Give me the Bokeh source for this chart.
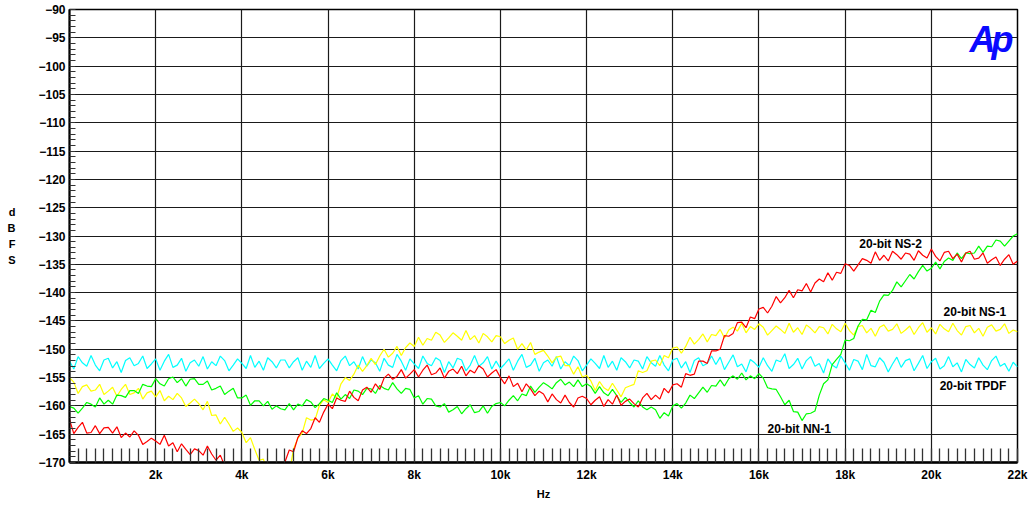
from bokeh.plotting import figure
from bokeh.models import FixedTicker, Range1d, Label
from bokeh.embed import file_html
from bokeh.resources import INLINE

# frequency axis of the sweep (Hz), one reading every 100 Hz
freq_hz = list(range(0, 22001, 100))

tpdf = [
    -152.1, -153.5, -151.3, -152.4, -153.0, -151.1, -152.8, -153.8, -151.9, -151.6,
    -153.3, -152.2, -154.1, -152.0, -151.5, -152.9, -152.5, -151.2, -153.4, -152.6,
    -151.7, -153.7, -152.1, -150.9, -153.2, -152.8, -151.6, -153.9, -152.4, -151.9,
    -153.0, -151.3, -153.5, -152.2, -152.9, -151.2, -152.0, -153.8, -152.8, -151.7,
    -152.5, -153.4, -151.1, -153.2, -152.1, -153.7, -151.5, -152.2, -153.3, -151.9,
    -151.9, -153.3, -152.2, -151.5, -153.7, -152.1, -153.2, -151.1, -153.4, -152.5,
    -151.7, -152.8, -153.8, -152.0, -151.2, -152.9, -152.2, -153.5, -151.3, -153.0,
    -151.9, -152.4, -153.9, -151.6, -152.8, -153.2, -150.9, -152.1, -153.7, -151.7,
    -152.6, -153.4, -151.2, -152.5, -152.9, -151.5, -152.0, -154.1, -152.2, -153.3,
    -151.6, -151.9, -153.8, -152.8, -151.1, -153.0, -152.4, -151.3, -153.5, -152.1,
    -153.4, -152.6, -151.7, -153.7, -152.1, -150.9, -153.2, -152.8, -151.6, -153.9,
    -152.4, -151.9, -153.0, -151.3, -153.5, -152.2, -152.9, -151.2, -152.0, -153.8,
    -152.8, -151.7, -152.5, -153.4, -151.1, -153.2, -152.1, -153.7, -151.5, -152.2,
    -153.3, -151.9, -152.1, -153.5, -151.3, -152.4, -153.0, -151.1, -152.8, -153.8,
    -151.9, -151.6, -153.3, -152.2, -154.1, -152.0, -151.5, -152.9, -152.5, -151.2,
    -152.7, -151.4, -153.6, -152.3, -151.0, -153.1, -152.6, -154.0, -151.8, -152.4,
    -153.2, -151.5, -152.9, -153.9, -151.9, -152.2, -150.8, -153.4, -152.7, -151.6,
    -153.5, -152.0, -151.3, -153.0, -152.5, -154.2, -151.7, -152.8, -153.3, -151.2,
    -152.4, -153.7, -151.8, -152.1, -153.6, -150.9, -152.9, -153.1, -151.5, -152.3,
    -154.0, -152.6, -151.4, -153.2, -152.0, -151.7, -153.8, -152.5, -151.1, -153.4,
    -152.2, -151.6, -153.5, -152.9, -151.3, -153.1, -152.4, -154.0, -151.8, -152.7,
    -153.3, -151.5, -152.8, -153.6, -152.0, -151.2, -153.0, -152.5, -153.9, -152.3,
    -153.1,
]

ns1 = [
    -155.0, -155.8, -157.8, -156.6, -156.3, -157.4, -157.2, -156.2, -158.0, -157.4,
    -156.7, -158.3, -157.1, -156.2, -158.0, -157.7, -156.9, -158.8, -157.7, -157.4,
    -158.4, -157.3, -159.1, -158.3, -158.9, -157.8, -158.6, -160.1, -159.5, -158.8,
    -159.6, -160.7, -159.2, -161.7, -161.6, -163.2, -162.0, -163.2, -164.5, -163.9,
    -164.7, -166.5, -165.6, -167.7, -169.6, -169.4, -171.7, -173.3, -172.3, -172.1,
    -172.0, -171.8, -167.6, -165.7, -164.8, -162.1, -162.5, -162.4, -159.9, -158.9,
    -159.4, -157.9, -158.6, -156.1, -155.0, -155.5, -154.4, -152.8, -153.9, -152.9,
    -151.6, -152.7, -151.2, -150.0, -151.4, -150.7, -149.5, -151.1, -149.7, -148.9,
    -149.5, -147.9, -149.3, -148.1, -148.4, -147.0, -147.5, -148.8, -148.0, -147.1,
    -147.7, -148.4, -146.7, -148.3, -147.6, -148.9, -147.2, -147.8, -148.7, -147.6,
    -147.8, -149.0, -148.4, -148.0, -150.0, -149.0, -150.1, -148.8, -150.9, -150.5,
    -150.2, -151.2, -152.4, -151.4, -151.2, -152.9, -152.9, -154.4, -153.1, -154.9,
    -154.6, -155.6, -157.3, -155.7, -156.8, -157.3, -156.0, -157.2, -158.4, -156.8,
    -156.5, -156.2, -153.8, -154.1, -153.8, -152.1, -151.9, -152.9, -151.1, -151.5,
    -149.8, -149.6, -150.7, -149.5, -147.9, -149.1, -148.3, -147.3, -148.7, -147.4,
    -147.6, -146.5, -148.0, -146.6, -146.1, -146.8, -145.4, -147.1, -146.0, -146.5,
    -145.5, -146.1, -147.5, -146.7, -145.9, -146.5, -147.2, -145.4, -147.0, -146.2,
    -147.4, -145.7, -146.3, -147.1, -146.0, -146.2, -147.3, -145.6, -146.4, -146.9,
    -145.4, -146.7, -147.5, -146.0, -145.8, -147.1, -146.3, -147.7, -146.1, -145.7,
    -146.8, -146.5, -145.5, -147.2, -146.6, -145.9, -147.4, -146.2, -145.3, -147.0,
    -146.2, -147.3, -145.6, -146.4, -146.9, -145.4, -146.7, -147.5, -146.0, -145.8,
    -147.1, -146.3, -147.7, -146.1, -145.7, -146.8, -146.5, -145.5, -147.2, -146.6,
    -146.9,
]

ns2 = [
    -162.4, -164.9, -163.8, -162.9, -164.8, -164.7, -163.5, -164.9, -163.9, -163.8,
    -164.8, -163.7, -165.6, -164.8, -165.5, -164.4, -165.2, -166.8, -166.3, -165.7,
    -166.2, -166.8, -165.2, -167.1, -166.5, -168.1, -166.7, -167.7, -168.6, -167.6,
    -167.9, -168.7, -167.1, -168.5, -169.6, -168.7, -170.6, -172.0, -171.1, -171.3,
    -172.5, -172.9, -173.1, -173.3, -173.2, -172.9, -172.6, -172.2, -171.6, -170.5,
    -169.9, -167.8, -168.1, -165.6, -164.4, -164.9, -164.0, -162.1, -162.9, -161.1,
    -159.7, -160.5, -158.6, -159.0, -159.2, -157.4, -158.5, -159.1, -157.2, -156.7,
    -157.6, -156.1, -157.1, -155.1, -154.4, -155.3, -154.8, -153.6, -155.1, -154.4,
    -153.6, -154.9, -153.7, -152.8, -154.5, -154.2, -153.3, -155.1, -153.9, -153.5,
    -154.3, -153.0, -154.7, -153.7, -154.2, -152.9, -153.5, -154.9, -154.2, -153.6,
    -155.0, -156.1, -154.7, -156.6, -156.0, -157.5, -156.1, -157.0, -158.2, -157.4,
    -157.9, -159.3, -157.9, -158.9, -159.5, -158.1, -159.4, -160.2, -158.6, -158.3,
    -158.7, -159.8, -159.0, -158.4, -160.1, -158.9, -159.7, -158.1, -159.9, -159.2,
    -158.8, -159.6, -160.2, -158.6, -157.8, -158.9, -158.1, -158.8, -156.9, -157.7,
    -156.3, -156.1, -156.7, -154.3, -154.6, -154.4, -152.1, -152.1, -152.5, -150.3,
    -150.3, -150.0, -147.6, -147.7, -147.2, -145.3, -145.2, -146.2, -144.3, -144.6,
    -142.9, -142.6, -143.6, -142.4, -140.7, -141.8, -140.9, -139.6, -140.9, -139.5,
    -139.7, -138.4, -139.9, -138.3, -137.6, -138.1, -136.5, -137.8, -136.4, -136.6,
    -134.9, -135.2, -136.2, -135.1, -134.0, -134.3, -134.8, -132.8, -134.3, -133.4,
    -134.4, -132.7, -133.3, -134.1, -133.0, -133.2, -134.3, -132.6, -133.4, -133.9,
    -132.3, -133.6, -134.4, -132.9, -132.7, -134.0, -133.2, -134.6, -133.0, -132.7,
    -134.1, -133.9, -133.0, -134.8, -134.2, -133.7, -135.2, -134.1, -133.3, -135.0,
    -134.4,
]

nn1 = [
    -160.1, -160.4, -161.3, -160.4, -159.4, -159.7, -160.2, -158.6, -159.7, -159.0,
    -159.7, -158.1, -158.2, -158.5, -157.3, -157.3, -157.8, -156.2, -156.5, -156.6,
    -155.2, -156.1, -156.5, -155.2, -154.9, -155.9, -155.2, -156.5, -155.3, -155.2,
    -156.2, -156.2, -155.6, -157.2, -156.9, -156.5, -158.0, -157.4, -156.9, -158.6,
    -158.6, -158.1, -159.9, -159.1, -159.1, -160.0, -159.2, -160.6, -160.0, -160.5,
    -160.7, -159.6, -160.7, -159.7, -160.0, -158.9, -159.3, -160.3, -159.6, -158.7,
    -159.0, -159.4, -157.7, -158.8, -158.0, -158.7, -157.2, -157.4, -158.0, -156.9,
    -157.0, -157.8, -156.4, -156.9, -157.2, -155.9, -157.0, -157.8, -156.9, -157.1,
    -158.6, -158.2, -159.7, -158.7, -158.8, -160.0, -160.2, -159.6, -161.1, -160.7,
    -160.1, -161.4, -160.5, -159.8, -161.2, -161.0, -160.0, -161.3, -160.1, -159.6,
    -159.4, -160.0, -159.0, -158.2, -159.1, -157.9, -158.2, -156.5, -157.6, -156.7,
    -155.9, -156.4, -157.0, -155.9, -155.3, -156.3, -155.8, -156.6, -155.4, -156.6,
    -156.1, -156.6, -157.8, -156.6, -157.7, -158.2, -157.1, -158.2, -159.4, -158.5,
    -159.4, -160.2, -159.1, -160.2, -160.7, -160.2, -160.7, -162.2, -161.2, -161.8,
    -160.0, -159.6, -160.4, -159.5, -158.1, -158.7, -157.7, -156.7, -157.6, -156.4,
    -156.5, -155.4, -156.5, -155.2, -154.7, -155.3, -154.2, -155.4, -154.7, -155.2,
    -154.3, -155.1, -156.8, -157.0, -157.1, -158.4, -159.8, -159.0, -161.0, -161.1,
    -162.6, -161.4, -161.3, -160.9, -158.1, -156.1, -155.4, -152.7, -151.8, -150.9,
    -148.4, -148.5, -148.1, -145.9, -144.7, -144.8, -143.1, -143.5, -141.5, -140.4,
    -140.5, -139.6, -138.1, -139.0, -137.9, -136.8, -137.6, -136.3, -135.2, -136.2,
    -135.7, -134.6, -135.8, -134.5, -133.9, -134.3, -133.0, -134.0, -133.0, -133.1,
    -133.0, -131.8, -132.9, -131.8, -131.9, -130.7, -130.9, -131.8, -130.9, -130.0,
    -129.6,
]

x_ticks = [2000, 4000, 6000, 8000, 10000, 12000, 14000, 16000, 18000, 20000, 22000]
x_tick_labels = ["2k", "4k", "6k", "8k", "10k", "12k", "14k", "16k", "18k", "20k", "22k"]
x_minor = list(range(0, 22001, 200))
y_ticks = list(range(-170, -89, 5))
y_minor = list(range(-170, -89, 1))

FONT = "Liberation Sans"
W, H = 1028, 502

p = figure(width=W, height=H, output_backend="svg", toolbar_location=None,
           x_range=Range1d(0, 22000), y_range=Range1d(-170, -90),
           min_border_left=69, min_border_right=11, min_border_top=9,
           min_border_bottom=37)
p.background_fill_color = "white"
p.border_fill_color = "white"
p.outline_line_color = "black"
p.outline_line_width = 1.5

# x axis
xax = p.xaxis[0]
xax.ticker = FixedTicker(ticks=x_ticks, minor_ticks=x_minor)
xax.major_label_overrides = {t: l for t, l in zip(x_ticks, x_tick_labels)}
xax.axis_label = "Hz"
xax.major_tick_in = 0
xax.major_tick_out = 0
xax.minor_tick_in = 14
xax.minor_tick_out = 0
xax.minor_tick_line_color = "#333333"
xax.minor_tick_line_width = 1.3
xax.axis_line_width = 2.5
xax.major_label_standoff = 5
xax.axis_label_standoff = 3

# y axis
yax = p.yaxis[0]
yax.ticker = FixedTicker(ticks=y_ticks, minor_ticks=y_minor)
yax.major_tick_in = 6
yax.major_tick_out = 0
yax.minor_tick_in = 6
yax.minor_tick_out = 0
yax.minor_tick_line_color = "#333333"
yax.axis_line_width = 2
yax.major_label_standoff = 4

for ax in (xax, yax):
    ax.major_label_text_font = FONT
    ax.major_label_text_font_style = "bold"
    ax.major_label_text_font_size = "12px"
    ax.major_label_text_color = "black"
    ax.axis_label_text_font = FONT
    ax.axis_label_text_font_style = "bold"
    ax.axis_label_text_font_size = "11px"
    ax.axis_label_text_color = "black"
    ax.axis_line_color = "black"

# stacked y-axis title "dBFS"
if "axis_label_orientation" in yax.properties():
    yax.axis_label = "d\nB\nF\nS"
    yax.axis_label_orientation = "horizontal"
    yax.axis_label_standoff = 20
    yax.axis_label_text_line_height = 1.35
    yax.axis_label_text_align = "center"
else:
    for i, ch in enumerate(["d", "B", "F", "S"]):
        p.add_layout(Label(x=13, y=215 + 14.7 * i, x_units="canvas", y_units="canvas",
                           text=ch, text_align="center", text_baseline="middle",
                           text_font=FONT, text_font_style="bold",
                           text_font_size="11px", text_color="black"))

for g in (p.xgrid[0], p.ygrid[0]):
    g.grid_line_color = "#1a1a1a"
    g.grid_line_width = 1.2

series = [
    (tpdf, "#00FFFF"),
    (ns1, "#FFFF00"),
    (nn1, "#00FF00"),
    (ns2, "#FF0000"),
]
for vals, col in series:
    p.line(freq_hz, vals, line_color=col, line_width=1.2)

# curve labels
curve_labels = [
    ("20-bit NS-2", 18330, -131.4, "left"),
    ("20-bit NS-1", 21740, -143.5, "right"),
    ("20-bit TPDF", 21740, -156.5, "right"),
    ("20-bit NN-1", 16200, -164.0, "left"),
]
for txt, lx, ly, al in curve_labels:
    p.add_layout(Label(x=lx, y=ly, text=txt, text_align=al, text_baseline="middle",
                       text_font=FONT, text_font_style="bold", text_font_size="12px",
                       text_color="black"))

# Ap logo (two overlapping letters, as in the original); canvas y counts from the top
for ch, lx in (("A", 969), ("p", 991)):
    p.add_layout(Label(x=lx, y=39, x_units="canvas", y_units="canvas", text=ch,
                       text_align="left", text_baseline="alphabetic", text_font=FONT,
                       text_font_style="bold italic", text_font_size="36px",
                       text_color="#0A0AFF"))

open("out.html", "w").write(file_html(p, INLINE))
